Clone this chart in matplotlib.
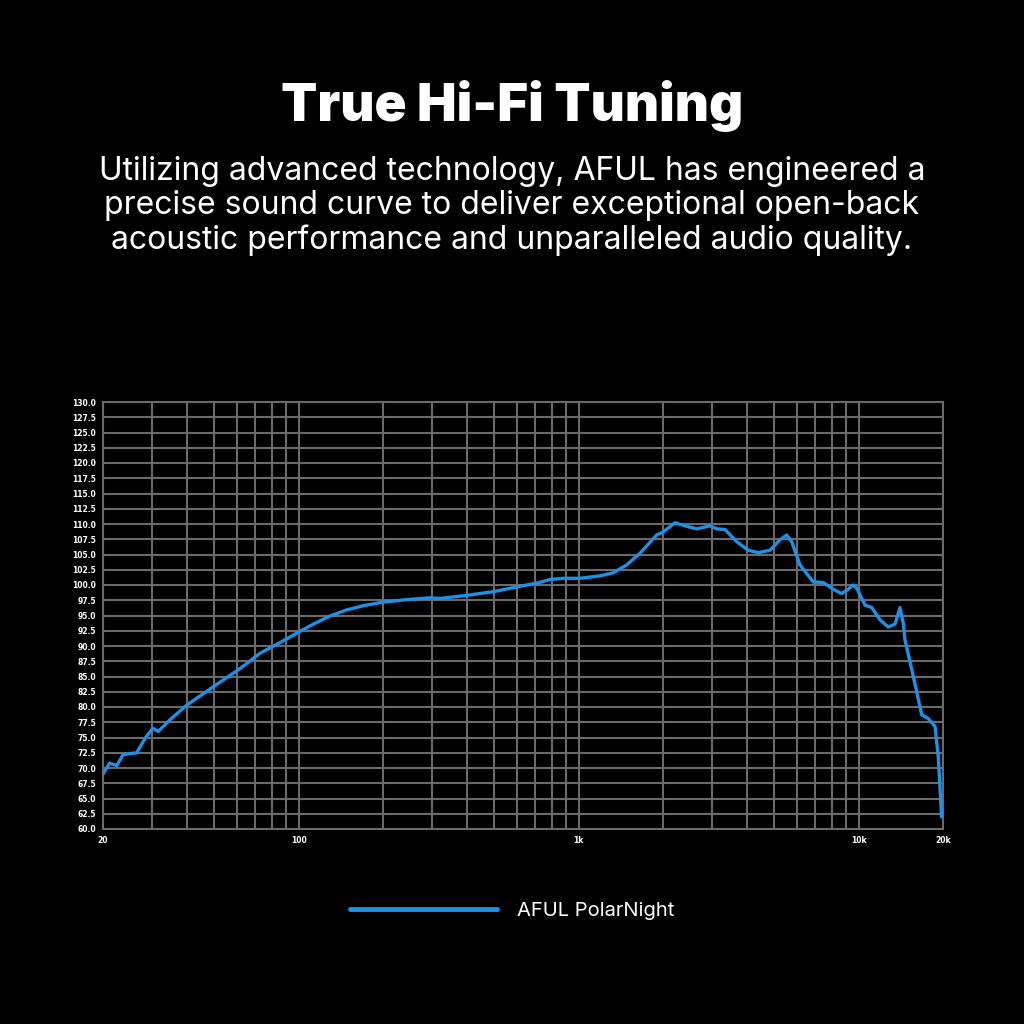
import numpy as np
import matplotlib.pyplot as plt
from matplotlib.ticker import FixedLocator, FixedFormatter, LogLocator, NullFormatter

# frequency response (Hz, dB)
freq = [20, 21.1, 22.4, 23.6, 26.4, 28.3, 30.1, 31.5, 34.7, 39.8, 49.5, 61.7,
        72.7, 89.3, 101, 113, 129, 148, 170, 200, 243, 294, 320, 398, 495,
        617, 708, 790, 881, 1010, 1192, 1329,
        1484, 1655, 1899, 2004, 2208, 2396, 2638, 2944, 3110, 3330, 3666, 4032,
        4379, 4820, 5236, 5532, 5764, 6168, 6884, 7474, 8112, 8690, 9182, 9518,
        9836, 10532, 11130, 11914, 12754, 13480, 14046, 14430, 14630, 15668,
        16790, 17726, 18726, 19232, 19772]
spl = [69.0, 70.8, 70.4, 72.2, 72.5, 74.9, 76.5, 76.0, 77.9, 80.3, 83.3, 86.3,
       88.8, 91.0, 92.4, 93.6, 94.9, 95.9, 96.6, 97.2, 97.6, 97.9, 97.8, 98.3,
       98.9, 99.8, 100.3, 100.9, 101.1, 101.1, 101.5,
       102.0, 103.3, 105.2, 108.2, 108.7, 110.2, 109.7, 109.2, 109.7, 109.2,
       109.1, 107.1, 105.7, 105.3, 105.7, 107.4, 108.2, 107.1, 103.3, 100.5,
       100.4, 99.3, 98.6, 99.3, 100.0, 99.5, 96.7, 96.3, 94.3, 93.1, 93.6, 96.3,
       93.7, 91.0, 85.0, 78.7, 78.1, 76.8, 71.9, 62.0]

y_ticks = np.arange(60, 130.1, 2.5)
x_ticks = [20, 100, 1000, 10000, 20000]
x_labels = ['20', '100', '1k', '10k', '20k']
series_name = 'AFUL PolarNight'

line_color = '#1e90e6'
grid_color = '#6a6a6a'

fig = plt.figure(figsize=(10.24, 10.24), dpi=100, facecolor='black')

fig.text(0.5, 1 - 106 / 1024, 'True Hi-Fi Tuning', ha='center', va='center',
         color='white', fontsize=38, fontweight='black', family='Inter')
subtitle = ('Utilizing advanced technology, AFUL has engineered a\n'
            'precise sound curve to deliver exceptional open-back\n'
            'acoustic performance and unparalleled audio quality.')
fig.text(0.5, 1 - 206 / 1024, subtitle, ha='center', va='center',
         color='white', fontsize=23, family='Inter', linespacing=1.15)

ax = fig.add_axes([103 / 1024, 1 - 829 / 1024, 840 / 1024, 427 / 1024])
ax.set_facecolor('black')
ax.plot(freq, spl, color=line_color, lw=2.4, solid_capstyle='round',
        label=series_name, zorder=3)

ax.set_xscale('log')
ax.set_xlim(20, 20000)
ax.set_ylim(60, 130)
ax.xaxis.set_major_locator(FixedLocator(x_ticks))
ax.xaxis.set_major_formatter(FixedFormatter(x_labels))
ax.xaxis.set_minor_locator(LogLocator(base=10, subs=np.arange(2, 10)))
ax.xaxis.set_minor_formatter(NullFormatter())
ax.set_yticks(y_ticks)
ax.set_yticklabels([f'{v:.1f}' for v in y_ticks])

ax.grid(True, which='both', axis='x', color=grid_color, lw=1.5)
ax.grid(True, which='major', axis='y', color=grid_color, lw=1.5)
ax.tick_params(which='both', length=0, colors='white', labelsize=5.5, pad=5)
for lab in ax.get_xticklabels() + ax.get_yticklabels():
    lab.set_fontweight('bold')
for s in ax.spines.values():
    s.set_color(grid_color)
    s.set_linewidth(1.5)

fig.legend(loc='center', bbox_to_anchor=(0.5, 1 - 911 / 1024),
           frameon=False, handlelength=7.3, handletextpad=1.0,
           labelcolor='white', prop={'family': 'Inter', 'size': 14.5})
for l in fig.legends[0].get_lines():
    l.set_linewidth(3.5)

plt.savefig('out.png', dpi=100, facecolor='black')
